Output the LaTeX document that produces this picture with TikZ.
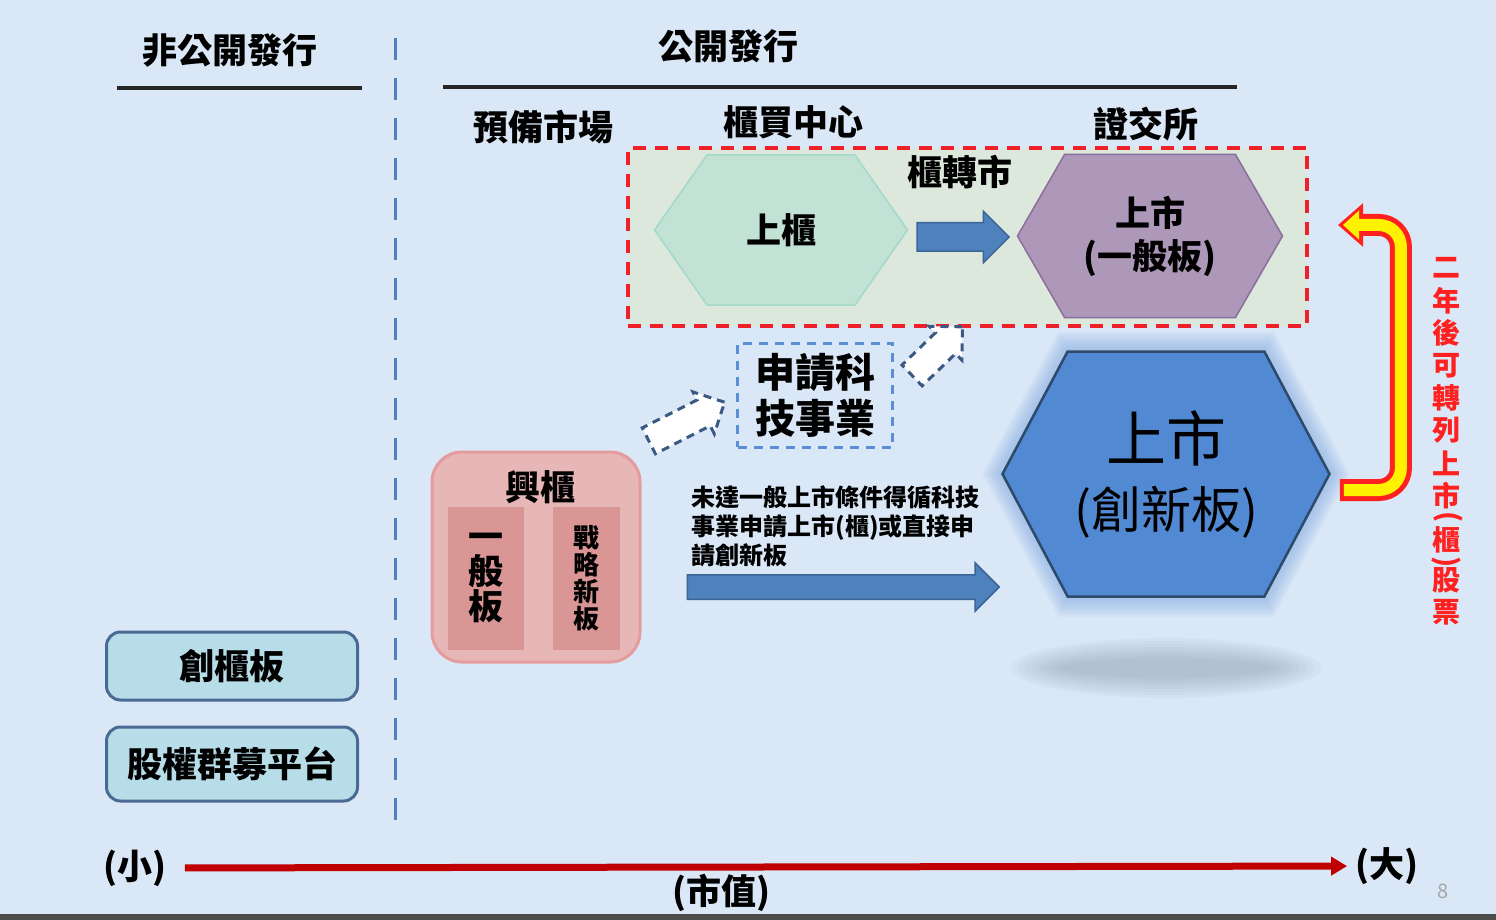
\documentclass[tikz,border=0pt]{standalone}
\usepackage{fontspec}
\setmainfont{Noto Sans CJK TC}
\usetikzlibrary{positioning, calc, shapes.symbols, shapes.arrows, arrows.meta}
\newlength\pxu
\setlength\pxu{0.5pt}
\definecolor{slidebg}{HTML}{DAE7F6}
\definecolor{zonefill}{HTML}{DCE8DC}
\definecolor{zoneline}{HTML}{F0202A}
\definecolor{otcfill}{HTML}{C2E2D5}
\definecolor{otcline}{HTML}{A3D9CB}
\definecolor{twsefill}{HTML}{AE98BA}
\definecolor{twseline}{HTML}{8C6E9A}
\definecolor{arrowblue}{HTML}{4F81BD}
\definecolor{arrowline}{HTML}{3B6596}
\definecolor{bigfill}{HTML}{5189D3}
\definecolor{bigline}{HTML}{2E4A6B}
\definecolor{glowblue}{HTML}{7FA8E0}
\definecolor{shadowgray}{HTML}{8A98A8}
\definecolor{emergfill}{HTML}{E7B6B7}
\definecolor{emergline}{HTML}{E49C9C}
\definecolor{cellfill}{HTML}{D99694}
\definecolor{techline}{HTML}{5B8FD9}
\definecolor{ghostline}{HTML}{3A5A84}
\definecolor{crowdfill}{HTML}{B7DDE8}
\definecolor{crowdline}{HTML}{4A6A94}
\definecolor{axisred}{HTML}{C00000}
\definecolor{notered}{HTML}{FF2020}
\tikzset{>=Triangle,
  head_text/.style={font=\bfseries\fontsize{17.5}{21}\selectfont, inner sep=2pt},
  head_rule/.style={draw=black!85, line width=4\pxu},
  hex/.style={signal, signal to=east and west, inner sep=0pt, draw, line width=1.5\pxu, align=center}}

\begin{document}
\begin{tikzpicture}[x=\pxu, y=-\pxu,
  split_line/.style={draw=arrowblue, line width=3\pxu, dash pattern=on 22\pxu off 18\pxu},
  zone/.style={rectangle, fill=zonefill, draw=zoneline, line width=4\pxu, dash pattern=on 13\pxu off 9\pxu},
  block_arrow/.style={single arrow, anchor=tail, fill=arrowblue, draw=arrowline, line width=1.5\pxu, inner xsep=0pt},
  ghost_arrow/.style={single arrow, anchor=tail, fill=white, draw=ghostline, line width=3\pxu, dash pattern=on 8\pxu off 6\pxu, inner xsep=0pt, inner ysep=13\pxu, single arrow head extend=9\pxu},
  tech_box/.style={rectangle, draw=techline, line width=3\pxu, dash pattern=on 9\pxu off 7\pxu, minimum width=155\pxu, minimum height=104\pxu, align=center, font=\bfseries\fontsize{20}{23}\selectfont},
  emerging/.style={rectangle, rounded corners=30\pxu, fill=emergfill, draw=emergline, line width=3\pxu},
  emerging_cell/.style={rectangle, fill=cellfill, minimum height=143\pxu, align=center},
  crowd_box/.style={rectangle, rounded corners=14\pxu, fill=crowdfill, draw=crowdline, line width=3\pxu, minimum width=251\pxu, font=\bfseries\fontsize{17.5}{21}\selectfont},
  note_text/.style={font=\bfseries\fontsize{12}{14.5}\selectfont, align=left, inner sep=0pt},
  vert_note/.style={text=notered, font=\bfseries\fontsize{14}{16}\selectfont, inner sep=0pt},
  value_axis/.style={draw=axisred, line width=7\pxu, -{Triangle[width=9pt, length=8pt]}, shorten <=7pt, shorten >=2pt}]
\useasboundingbox (0,0) rectangle (1496,920);
\fill[slidebg] (0,0) rectangle (1496,920);
\fill[black!70] (0,914) rectangle (1496,920);

% headings
\node[head_text] (private) at (230,50) {非公開發行};
\node[head_text] (public) at (728,46) {公開發行};
\draw[head_rule] (117,88) -- (362,88);
\draw[head_rule] (443,87) -- (1237,87);
\draw[split_line] (395,38) -- (395,835);
\node[head_text] (prep) at (543,127) {預備市場};
\node[head_text] (gretai) at (793,122) {櫃買中心};
\node[head_text] (twse_head) at (1146,124) {證交所};

% listed boards
\node[zone, minimum width=679\pxu, minimum height=178\pxu] (zone) at (967,237) {};
\node[hex, fill=otcfill, draw=otcline, minimum width=253\pxu, minimum height=150\pxu, signal pointer angle=110, font=\bfseries\fontsize{17.5}{21}\selectfont] (otc) at (781,230) {上櫃};
\node[hex, fill=twsefill, draw=twseline, minimum width=265\pxu, minimum height=163\pxu, signal pointer angle=120, font=\bfseries\fontsize{17.5}{21.5}\selectfont] (twse) at (1150,236) {上市\\(一般板)};
\node[block_arrow, minimum height=92\pxu, inner ysep=13.5\pxu, single arrow head extend=11.5\pxu] (turn_arrow) at ($(otc.east)+(8,7)$) {};
\node[head_text] (turn_label) at (960,172) {櫃轉市};

% innovation board
\foreach \g in {1,...,8}
  \node[hex, fill=glowblue, draw=none, opacity=0.09, minimum width={(327+5*\g)*\pxu}, minimum height={(245+5*\g)*\pxu}, signal pointer angle=124] (glow-\g) at (1166,474) {};
\coordinate (innov_shadow) at (1166,668);
\foreach \s in {0,...,7}
  \fill[shadowgray, opacity=0.07] (innov_shadow) ellipse [x radius={(155-7*\s)*\pxu}, y radius={(30-3*\s)*\pxu}];
\node[hex, fill=bigfill, draw=bigline, line width=2.5\pxu, minimum width=327\pxu, minimum height=245\pxu, signal pointer angle=124] (innov) at (1166,474) {\fontsize{30}{34}\selectfont 上市\\[9pt]\fontsize{25}{30}\selectfont(創新板)};

% two years later
\coordinate (u_from) at ($(innov.east)+(9,16)$);
\coordinate (u_to) at (1338,225);
\draw[draw=notered, line width=22\pxu, rounded corners=22\pxu, -{Triangle[width=21pt, length=12.5pt]}] (u_from) -- ++(61,0) |- (u_to);
\draw[draw=yellow, line width=12\pxu, rounded corners=22\pxu, -{Triangle[width=14pt, length=8pt]}, shorten <=4\pxu, shorten >=5\pxu] (u_from) -- ++(61,0) |- (u_to);
\foreach \ch [count=\i] in {二,年,後,可,轉,列,上,市}
  \node[vert_note] (note-\i) at (1446,{268+32.5*(\i-1)}) {\ch};
\node[vert_note, rotate=-90] (note-open) at (1448,517) {(};
\node[vert_note] (note-otc) at (1446,540) {櫃};
\node[vert_note, rotate=-90] (note-close) at (1446,562) {)};
\node[vert_note] (note-stock) at (1446,580) {股};
\node[vert_note] (note-ticket) at (1446,612) {票};

% emerging board
\node[emerging, minimum width=208\pxu, minimum height=210\pxu] (emerging) at (536,557) {};
\node[head_text] (emerging_title) at (540,487) {興櫃};
\node[emerging_cell, minimum width=76\pxu, font=\bfseries\fontsize{17.5}{17.5}\selectfont] (general) at (486,578) {一\\般\\板};
\node[emerging_cell, minimum width=67\pxu, font=\bfseries\fontsize{13}{13.5}\selectfont] (strategic) at (586,578) {戰\\略\\新\\板};

\node[tech_box] (tech) at (815,395) {申請科\\技事業};
\node[ghost_arrow, rotate=27, minimum height=85\pxu] (ghost_up) at ($(emerging.north east)+(6,-9)$) {};
\node[ghost_arrow, rotate=44, minimum height=70\pxu] (ghost_zone) at ($(tech.north east)+(17,35)$) {};

\node[note_text, anchor=north west] (direct_note) at (691,485) {未達一般上市條件得循科技\\事業申請上市(櫃)或直接申\\請創新板};
\node[block_arrow, minimum height=312\pxu, inner ysep=11.5\pxu, single arrow head extend=12\pxu] (direct_arrow) at ($(emerging.east)+(45,30)$) {};

% non-public
\node[crowd_box, minimum height=68\pxu] (gcb) at (232,666) {創櫃板};
\node[crowd_box, minimum height=74\pxu, below=24\pxu of gcb] (equity) {股權群募平台};

% market value axis
\node[head_text] (small) at (135,868) {(小)};
\node[head_text] (large) at (1387,866) {(大)};
\draw[value_axis] (small) -- (large);
\node[head_text] (mktcap) at (721,893) {(市值)};
\node[text=black!35, font=\fontsize{10}{12}\selectfont] (page_no) at (1443,891) {8};
\end{tikzpicture}
\end{document}
